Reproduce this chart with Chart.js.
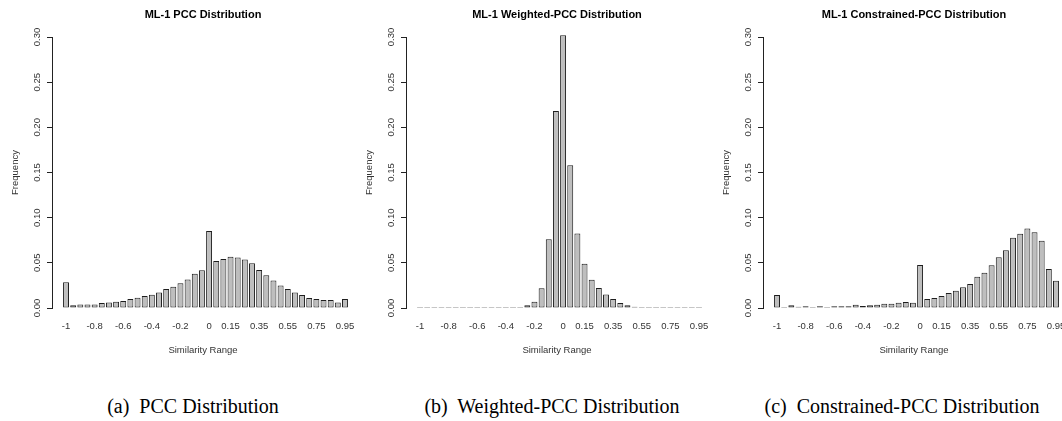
<!DOCTYPE html>
<html><head><meta charset="utf-8">
<script src="https://cdn.jsdelivr.net/npm/chart.js@4.4.1/dist/chart.umd.min.js"></script>
<style>
html,body{margin:0;padding:0;background:#fff;width:1062px;height:421px;overflow:hidden;position:relative}
canvas{position:absolute;top:0}
.cap{position:absolute;font-family:"Liberation Serif","Times New Roman",serif;font-size:20px;line-height:20px;top:396px;white-space:pre;color:#000;transform:translateX(-50%)}
</style></head><body>
<canvas id="c1" width="354" height="360" style="left:0px"></canvas>
<canvas id="c2" width="354" height="360" style="left:354px"></canvas>
<canvas id="c3" width="354" height="360" style="left:711px"></canvas>
<div class="cap" style="left:193px">(a)  PCC Distribution</div>
<div class="cap" style="left:552px">(b)  Weighted-PCC Distribution</div>
<div class="cap" style="left:902px">(c)  Constrained-PCC Distribution</div>
<script>
// bin starts (similarity range)
const bins = [-1, -0.95, -0.9, -0.85, -0.8, -0.75, -0.7, -0.65, -0.6, -0.55,
  -0.5, -0.45, -0.4, -0.35, -0.3, -0.25, -0.2, -0.15, -0.1, -0.05,
  0, 0.05, 0.1, 0.15, 0.2, 0.25, 0.3, 0.35, 0.4, 0.45,
  0.5, 0.55, 0.6, 0.65, 0.7, 0.75, 0.8, 0.85, 0.9, 0.95];

const xTickValues = [-1, -0.8, -0.6, -0.4, -0.2, 0, 0.15, 0.35, 0.55, 0.75, 0.95];
const xTickLabels = ["-1", "-0.8", "-0.6", "-0.4", "-0.2", "0", "0.15", "0.35", "0.55", "0.75", "0.95"];

const pccValues = [0.0286, 0.003, 0.004, 0.004, 0.004, 0.0055, 0.006, 0.007, 0.0077, 0.0099,
  0.0114, 0.0132, 0.0147, 0.0172, 0.0209, 0.0234, 0.0275, 0.0315, 0.038, 0.0418,
  0.0853, 0.052, 0.0542, 0.0568, 0.056, 0.0538, 0.0495, 0.042, 0.0363, 0.0304,
  0.0249, 0.0209, 0.0172, 0.0143, 0.011, 0.0099, 0.0088, 0.0088, 0.0062, 0.0099];

const weightedValues = [0, 0, 0, 0, 0, 0, 0, 0, 0, 0,
  0, 0, 0, 0, 0.0012, 0.003, 0.007, 0.022, 0.076, 0.218,
  0.302, 0.158, 0.0826, 0.049, 0.0313, 0.0222, 0.015, 0.0099, 0.0055, 0.003,
  0.0015, 0.001, 0.0006, 0.0003, 0, 0, 0, 0, 0, 0];

const constrainedValues = [0.0143, 0, 0.003, 0.0015, 0.002, 0, 0.002, 0.0012, 0.002, 0.002,
  0.002, 0.0035, 0.0023, 0.003, 0.0037, 0.0048, 0.0048, 0.0059, 0.0066, 0.0057,
  0.0475, 0.0099, 0.0112, 0.0134, 0.0165, 0.019, 0.023, 0.0265, 0.0347, 0.0391,
  0.0474, 0.0563, 0.064, 0.0778, 0.0822, 0.0881, 0.0839, 0.0744, 0.0431, 0.0301];

const titles = ["ML-1 PCC Distribution", "ML-1 Weighted-PCC Distribution", "ML-1 Constrained-PCC Distribution"];
const yTitle = "Frequency";
const xTitle = "Similarity Range";

const SANS = "'Liberation Sans', Arial, sans-serif";

function makeChart(id, title, values) {
  const data = bins.map((b, i) => ({ x: b, y: values[i] }));
  return new Chart(document.getElementById(id), {
    type: 'bar',
    data: {
      datasets: [{
        data: data,
        backgroundColor: '#bebebe',
        borderColor: '#1e1e1e',
        borderWidth: 1,
        borderSkipped: false,
        barPercentage: 0.83,
        categoryPercentage: 1,
        minBarLength: 1,
        clip: false
      }]
    },
    options: {
      responsive: false,
      devicePixelRatio: 1,
      animation: false,
      layout: { autoPadding: false, padding: { left: 0, right: 0, top: 0, bottom: 4 } },
      plugins: {
        legend: { display: false },
        tooltip: { enabled: false },
        title: {
          display: true, text: title, fullSize: false, color: '#000',
          font: { family: SANS, size: 11, weight: 'bold', lineHeight: 1.2 },
          padding: { top: 8.4, bottom: 15.4 }
        }
      },
      scales: {
        x: {
          type: 'linear', min: -1.098, max: 1.013, bounds: 'data', offset: false,
          afterBuildTicks: s => { s.ticks = xTickValues.map(v => ({ value: v })); },
          afterFit: s => { s.height = 48; s.paddingLeft = 0; s.paddingRight = 0; },
          ticks: {
            autoSkip: false, maxRotation: 0, minRotation: 0, padding: 0, color: '#333',
            font: { family: SANS, size: 9.5 },
            callback: (v, i) => xTickLabels[i]
          },
          grid: { display: false, drawTicks: true, tickLength: 13, offset: false },
          border: { display: false },
          title: {
            display: true, text: xTitle, color: '#333',
            font: { family: SANS, size: 9.5 },
            padding: { top: 12, bottom: 0 }
          }
        },
        y: {
          min: 0, max: 0.3,
          afterFit: s => { s.width = 52; },
          ticks: {
            stepSize: 0.05, minRotation: 90, maxRotation: 90, crossAlign: 'center', padding: 0,
            color: '#333', font: { family: SANS, size: 9.5 },
            callback: v => v.toFixed(2)
          },
          grid: { display: true, drawOnChartArea: false, drawTicks: true, tickLength: 5, color: '#222', tickColor: '#222', lineWidth: 1 },
          border: { display: true, color: '#222', width: 1 },
          title: {
            display: true, text: yTitle, color: '#333',
            font: { family: SANS, size: 9.5 },
            padding: { top: 10, bottom: 0 }
          }
        }
      }
    }
  });
}

makeChart('c1', titles[0], pccValues);
makeChart('c2', titles[1], weightedValues);
makeChart('c3', titles[2], constrainedValues);
</script>
</body></html>
